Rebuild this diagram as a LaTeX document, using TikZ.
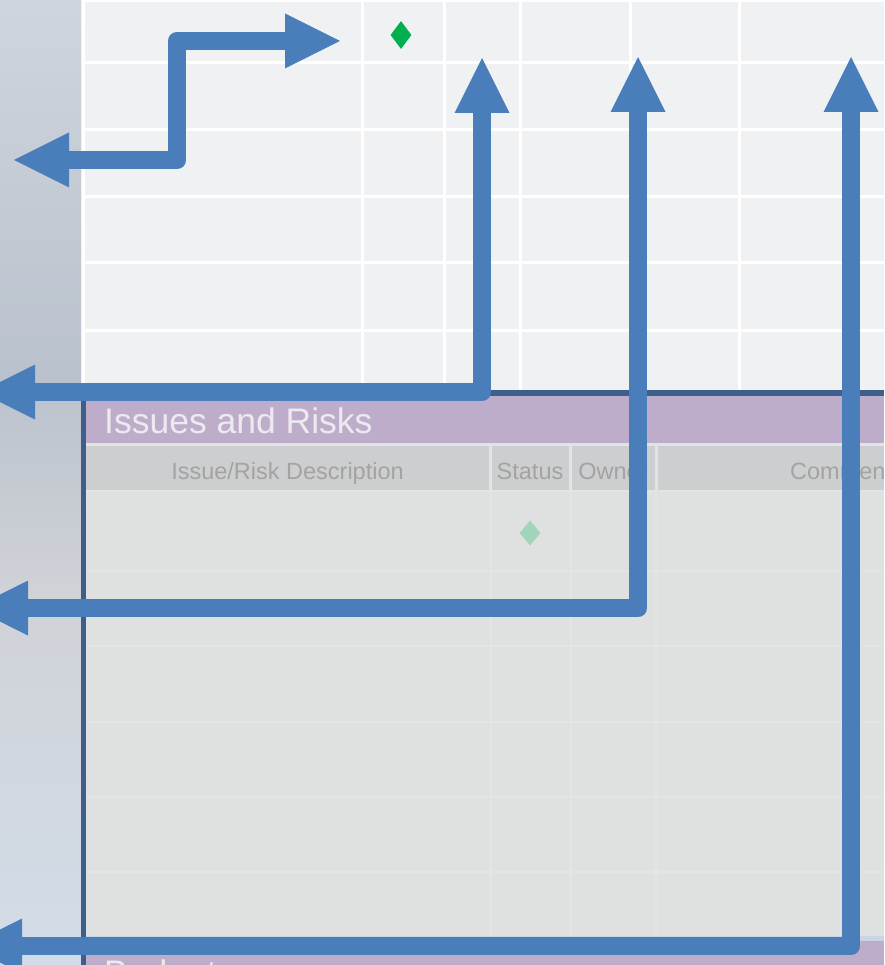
\documentclass[tikz,border=0pt]{standalone}
\usepackage{fontspec}
\setmainfont{Liberation Sans}
\usetikzlibrary{arrows.meta,shapes.geometric}
\definecolor{azul}{HTML}{4A7EBB}
\definecolor{marinho}{HTML}{3E5E8C}
\definecolor{lilas}{HTML}{BEADCA}
\definecolor{fundograde}{HTML}{F0F1F3}
\definecolor{cabecalho}{HTML}{CDCECF}
\definecolor{corpo}{HTML}{DFE0E0}
\definecolor{linhafraca}{HTML}{E3E4E4}
\definecolor{divisoria}{HTML}{E2E3E3}
\definecolor{rodape}{HTML}{C9D5E2}
\definecolor{textocinza}{HTML}{A3A3A3}
\definecolor{tituloclaro}{HTML}{ECEAF0}
\definecolor{verde}{HTML}{00B050}
\definecolor{verdeclaro}{HTML}{A0D5B9}
\definecolor{lateralA}{HTML}{CED5DD}
\definecolor{lateralB}{HTML}{B9C1CC}
\definecolor{lateralC}{HTML}{BCC3CD}
\definecolor{lateralD}{HTML}{D0D3D8}
\definecolor{lateralE}{HTML}{D2DCE8}

\begin{document}
\begin{tikzpicture}[
  x=1pt, y=-1pt,
  >={Triangle[length=55pt,width=55pt,line width=0pt]},
  seta/.style={<->, draw=azul, line width=18.5pt, line join=round},
  titulo/.style={anchor=base west, inner sep=0pt, text=tituloclaro,
                 font=\fontsize{35.5}{40}\selectfont},
  coluna/.style={anchor=base, inner sep=0pt, text=textocinza,
                 font=\fontsize{23.5}{28}\selectfont},
  marco/.style={diamond, fill=verde, inner sep=0pt,
                minimum width=21pt, minimum height=28pt},
  linhagrade/.style={draw=white, line width=3pt},
  linhacorpo/.style={draw=linhafraca, line width=1.2pt}]

  \useasboundingbox (0,0) rectangle (884,965);
  \clip (0,0) rectangle (884,965);

  % faixa lateral
  \shade[top color=lateralA, bottom color=lateralB] (0,0) rectangle (81,390);
  \shade[top color=lateralC, bottom color=lateralD] (0,390) rectangle (81,600);
  \shade[top color=lateralD, bottom color=lateralE] (0,600) rectangle (81,965);

  % grade do cronograma
  \fill[fundograde] (81,0) rectangle (884,390);
  \foreach \gx in {83,362,444,520,630,739}
    \draw[linhagrade] (\gx,0) -- (\gx,390);
  \foreach \gy in {1,63,130,197,263,330}
    \draw[linhagrade] (83,\gy) -- (884,\gy);

  % painel de riscos
  \fill[marinho] (81,390) rectangle (884,396);
  \fill[marinho] (81,390) rectangle (86,965);
  \fill[lilas] (86,396) rectangle (884,443);
  \fill[divisoria] (86,443) rectangle (884,446);
  \fill[cabecalho] (86,446) rectangle (884,490);
  \foreach \sx in {490.5,570,656}
    \draw[draw=divisoria, line width=3pt] (\sx,446) -- (\sx,490);
  \fill[divisoria] (86,490) rectangle (884,492);
  \fill[corpo] (86,492) rectangle (884,936);
  \foreach \ly in {571,646,722,797,872}
    \draw[linhacorpo] (86,\ly) -- (884,\ly);
  \foreach \lx in {491,571,656}
    \draw[linhacorpo] (\lx,492) -- (\lx,936);
  \fill[rodape] (86,936) rectangle (884,941);
  \fill[lilas] (86,941) rectangle (884,965);

  \node[titulo] (titRiscos) at (104,433) {Issues and Risks};
  \node[titulo] (titOrcamento) at (104,985) {Budget};
  \node[coluna] (colDescricao) at (287.5,479) {Issue/Risk Description};
  \node[coluna] (colStatus) at (530,479) {Status};
  \node[coluna] (colDono) at (613,479) {Owner};
  \node[coluna] (colComentarios) at (847,479) {Comments};

  \node[marco] (marcoTopo) at (401,35) {};
  \node[marco, fill=verdeclaro, minimum height=25pt] (marcoRisco) at (530,533) {};

  % setas
  \coordinate (s1ini) at (14,160);
  \coordinate (s1dobra) at (177,100);
  \coordinate (s1fim) at (340,41);
  \coordinate (s2ini) at (-20,392);
  \coordinate (s2fim) at (482,58);
  \coordinate (s3ini) at (-27,608);
  \coordinate (s3fim) at (638,57);
  \coordinate (s4ini) at (-33,946);
  \coordinate (s4fim) at (851,57);

  \draw[seta] (s1ini) -| (s1dobra) |- (s1fim);
  \draw[seta] (s2ini) -| (s2fim);
  \draw[seta] (s3ini) -| (s3fim);
  \draw[seta] (s4ini) -| (s4fim);
\end{tikzpicture}
\end{document}
